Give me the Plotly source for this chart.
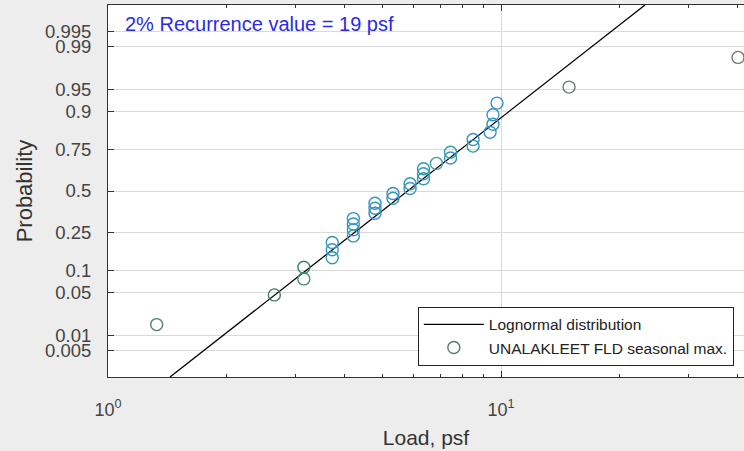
import math
import plotly.graph_objects as go

# ---- data ----
load_psf = [1.33, 2.65, 3.15, 3.15, 3.72, 3.72, 3.72, 4.21, 4.21, 4.21, 4.21,
            4.78, 4.78, 4.78, 5.31, 5.31, 5.87, 5.87, 6.35, 6.35, 6.35, 6.85,
            7.44, 7.44, 8.49, 8.49, 9.38, 9.54, 9.54, 9.77, 14.9, 40.1]
probability = [0.0156, 0.0469, 0.0781, 0.1094, 0.1406, 0.1719, 0.2031, 0.2344,
               0.2656, 0.2969, 0.3281, 0.3594, 0.3906, 0.4219, 0.4531, 0.4844,
               0.5156, 0.5469, 0.5781, 0.6094, 0.6406, 0.6719, 0.7031, 0.7344,
               0.7656, 0.7969, 0.8281, 0.8594, 0.8906, 0.9219, 0.9531, 0.9844]
point_colors = ["#557a72", "#4a7a6c", "#4a8a7c", "#3f7f72", "#2f9aa8", "#3a8fd0",
                "#2f9aa8", "#2f9aa8", "#3a8fd0", "#2f9aa8", "#3a8fd0", "#3a8fd0",
                "#2f9aa8", "#3a8fd0", "#2f9aa8", "#3a8fd0", "#3a8fd0", "#2f9aa8",
                "#2f9aa8", "#3a8fd0", "#2f9aa8", "#4a9aa0", "#3a8fd0", "#2f9aa8",
                "#2f9aa8", "#3a8fd0", "#3a8fd0", "#2f9aa8", "#3a8fd0", "#3a8fd0",
                "#707878", "#707878"]

# fitted lognormal line (end points)
line_load = [1.438, 23.25]
line_prob = [0.00135, 0.99865]

prob_ticks = [0.005, 0.01, 0.05, 0.1, 0.25, 0.5, 0.75, 0.9, 0.95, 0.99, 0.995]
prob_tick_text = ["0.005", "0.01", "0.05", "0.1", "0.25", "0.5", "0.75", "0.9", "0.95", "0.99", "0.995"]
x_major = [1, 10]
x_major_text = ["10<sup>0</sup>", "10<sup>1</sup>"]
x_minor = [2, 3, 4, 5, 6, 7, 8, 9, 20, 30, 40]

annotation_text = "2% Recurrence value = 19 psf"


# ---- normal probability scale ----
def norm_ppf(p):
    lo, hi = -10.0, 10.0
    for _ in range(200):
        mid = 0.5 * (lo + hi)
        if 0.5 * (1 + math.erf(mid / math.sqrt(2))) < p:
            lo = mid
        else:
            hi = mid
    return 0.5 * (lo + hi)


z_points = [norm_ppf(p) for p in probability]
z_line = [norm_ppf(p) for p in line_prob]
z_ticks = [norm_ppf(p) for p in prob_ticks]

fig = go.Figure()
fig.add_trace(go.Scatter(
    x=line_load, y=z_line, mode="lines", name="Lognormal distribution",
    line=dict(color="black", width=1.3),
))
fig.add_trace(go.Scatter(
    x=load_psf, y=z_points, mode="markers", name="UNALAKLEET FLD seasonal max.",
    marker=dict(symbol="circle-open", size=12, color=point_colors,
                line=dict(width=1.4)),
    cliponaxis=False,
))

fig.update_layout(
    width=744, height=451,
    margin=dict(l=108, r=0, t=5, b=74, autoexpand=False),
    paper_bgcolor="#ededed",
    plot_bgcolor="#ffffff",
    font=dict(family="Arial, Liberation Sans, sans-serif", color="#444444", size=16),
    showlegend=True,
    legend=dict(
        x=0.984, y=0.03, xanchor="right", yanchor="bottom",
        bgcolor="#ffffff", bordercolor="#222222", borderwidth=1,
        font=dict(size=15.5, color="#222222"),
        tracegroupgap=0, itemwidth=60,
    ),
    annotations=[dict(
        x=0.024, y=0.985, xref="paper", yref="paper", xanchor="left", yanchor="top",
        text=annotation_text, showarrow=False,
        font=dict(size=20, color="#2a2ae8"),
    )],
)

fig.update_xaxes(
    type="log", range=[0, 1.6183], automargin=False,
    tickvals=x_major, ticktext=x_major_text,
    ticks="inside", ticklen=6, tickcolor="#333333",
    showline=True, linecolor="#333333", linewidth=1, mirror="ticks",
    showgrid=True, gridcolor="#dadada", gridwidth=1,
    zeroline=False,
    minor=dict(tickvals=x_minor, ticks="inside", ticklen=3, tickcolor="#333333",
               showgrid=False),
    tickfont=dict(size=18, color="#444444"),
    ticklabelstandoff=16,
    title=dict(text="Load, psf", font=dict(size=21, color="#333333"), standoff=11),
)
fig.update_yaxes(
    range=[-3, 3], automargin=False,
    tickvals=z_ticks, ticktext=prob_tick_text,
    ticks="inside", ticklen=6, tickcolor="#333333",
    showline=True, linecolor="#333333", linewidth=1, mirror=False,
    showgrid=True, gridcolor="#dadada", gridwidth=1,
    zeroline=False,
    tickfont=dict(size=18.5, color="#444444"),
    ticklabelstandoff=12,
    title=dict(text="Probability", font=dict(size=22, color="#333333"), standoff=6),
)

fig.write_html("out.html", config={"displayModeBar": False},
               post_script="document.body.style.margin='0px';")
